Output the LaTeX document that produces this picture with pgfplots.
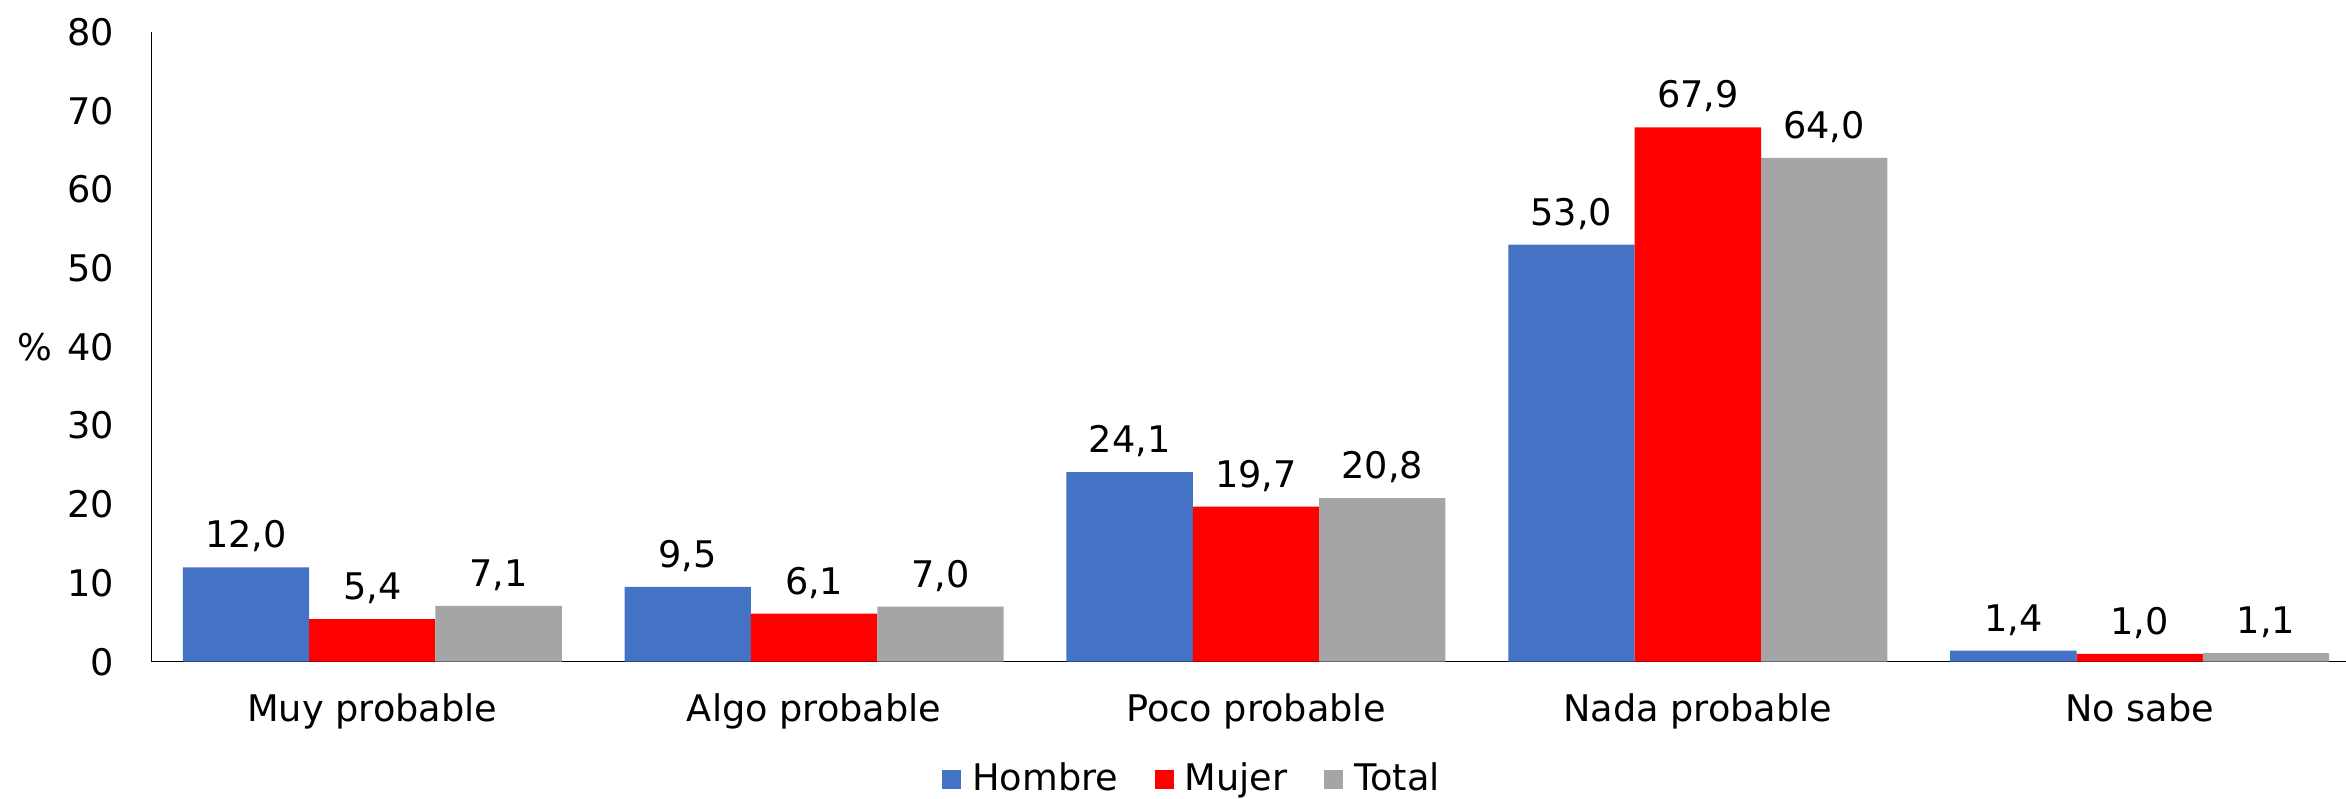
\documentclass[border=0pt]{standalone}
\usepackage{pgfplots}
\pgfplotsset{compat=1.18}
\usepackage{fontspec}
\setmainfont{DejaVu Sans}

\definecolor{hombre}{HTML}{4472C4}
\definecolor{mujer}{HTML}{FF0000}
\definecolor{total}{HTML}{A5A5A5}

\begin{document}
\begin{tikzpicture}[font=\fontsize{11}{13.2}\selectfont]
  \path[use as bounding box] (-45.42pt,-40.89pt) rectangle (658.38pt,198.51pt);
  \begin{axis}[
      at={(0pt,0pt)}, anchor=south west,
      scale only axis,
      width=658.38pt, height=188.9pt,
      ybar=0pt, bar width=37.9pt,
      xmin=-0.5, xmax=4.467,
      ymin=0, ymax=80,
      ytick={0,10,...,80},
      xtick={0,1,2,3,4},
      xticklabels={Muy probable,Algo probable,Poco probable,Nada probable,No sabe},
      major tick length=0pt,
      axis x line*=bottom, axis y line*=left,
      axis line style={black, line width=0.45pt, -},
      clip=false,
      /pgf/number format/assume math mode=true,
      yticklabel style={anchor=east, inner sep=0pt, xshift=-11.1pt},
      xticklabel style={anchor=north, inner sep=0pt, yshift=-9.3pt},
      ylabel={\%},
      every axis y label/.style={at={(axis description cs:0,0.5)}, anchor=center, xshift=-34.8pt},
      nodes near coords,
      nodes near coords style={/pgf/number format/fixed, /pgf/number format/fixed zerofill,
        /pgf/number format/precision=1, /pgf/number format/use comma,
        /pgf/number format/assume math mode=true,
        anchor=base, inner sep=0pt, yshift=5.8pt, black},
      legend columns=-1,
      legend style={at={(311.9pt,-35.2pt)}, anchor=center, draw=none, fill=none,
        inner sep=0pt, nodes={inner sep=0pt, anchor=west},
        /tikz/every odd column/.append style={column sep=3.3pt},
        /tikz/every even column/.append style={column sep=11pt}},
      legend image code/.code={\fill[#1] (0pt,-2.85pt) rectangle (5.7pt,2.85pt);},
    ]
    \addplot[draw=none, fill=hombre] coordinates {(0,12.0) (1,9.5) (2,24.1) (3,53.0) (4,1.4)};
    \addplot[draw=none, fill=mujer] coordinates {(0,5.4) (1,6.1) (2,19.7) (3,67.9) (4,1.0)};
    \addplot[draw=none, fill=total] coordinates {(0,7.1) (1,7.0) (2,20.8) (3,64.0) (4,1.1)};
    \legend{Hombre,Mujer,Total}
  \end{axis}
\end{tikzpicture}
\end{document}
